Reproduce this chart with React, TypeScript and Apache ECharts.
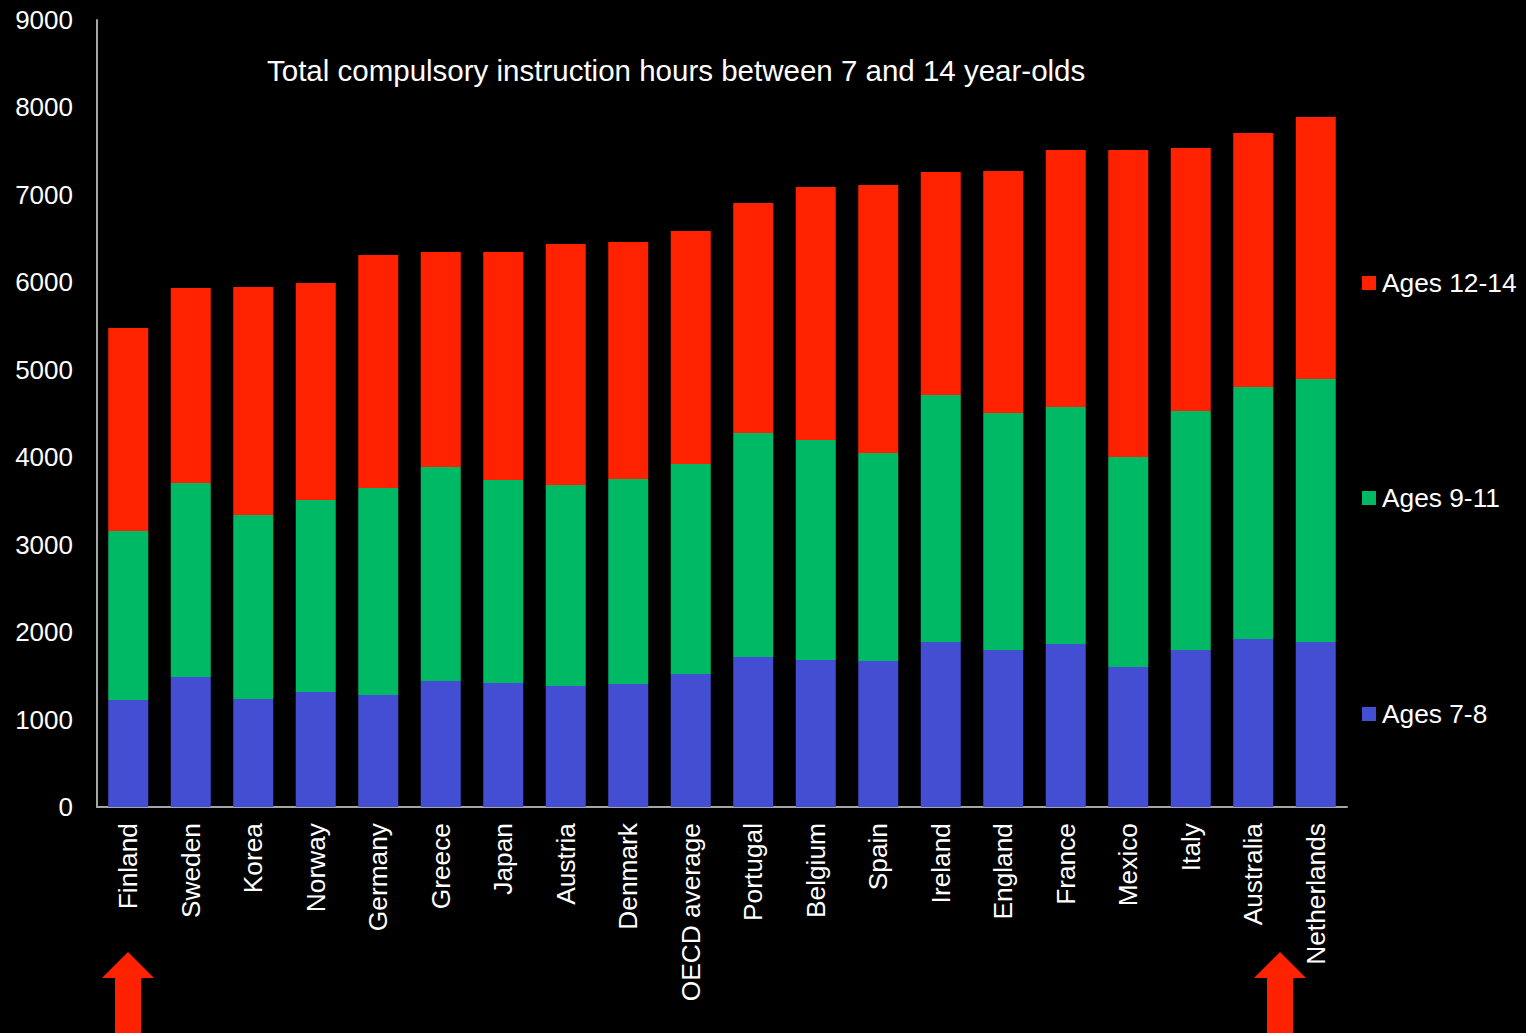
import React, { useEffect, useRef } from "react";
import * as echarts from "echarts";

const categories = [
  "Finland", "Sweden", "Korea", "Norway", "Germany", "Greece", "Japan", "Austria",
  "Denmark", "OECD average", "Portugal", "Belgium", "Spain", "Ireland", "England",
  "France", "Mexico", "Italy", "Australia", "Netherlands",
];

const ages7to8 = [1224, 1487, 1235, 1315, 1281, 1441, 1418, 1384, 1407, 1521, 1715, 1681, 1670, 1887, 1796, 1864, 1601, 1796, 1921, 1887];
const ages9to11 = [1932, 2218, 2104, 2196, 2367, 2447, 2322, 2299, 2344, 2402, 2562, 2516, 2378, 2825, 2710, 2711, 2402, 2733, 2882, 3008];
const ages12to14 = [2322, 2231, 2608, 2482, 2665, 2459, 2607, 2756, 2711, 2664, 2631, 2894, 3065, 2550, 2768, 2939, 3511, 3008, 2905, 2996];

const yMin = 0;
const yMax = 9000;
const yInterval = 1000;

const titleText = "Total compulsory instruction hours between 7 and 14 year-olds";
const seriesNames = ["Ages 7-8", "Ages 9-11", "Ages 12-14"];

const FONT = "Arial, 'Liberation Sans', sans-serif";
const RED = "#FF2200";
const GREEN = "#00B964";
const BLUE = "#434ED3";
const AXIS = "#A6A6A6";

function arrow(cx: number) {
  return {
    type: "polygon",
    shape: {
      points: [
        [cx, 952],
        [cx + 26, 978],
        [cx + 13, 978],
        [cx + 13, 1033],
        [cx - 13, 1033],
        [cx - 13, 978],
        [cx - 26, 978],
      ],
    },
    style: { fill: RED },
    silent: true,
  };
}

export default function App() {
  const ref = useRef<HTMLDivElement>(null);

  useEffect(() => {
    document.body.style.margin = "0";
    document.body.style.background = "#000";
    if (!ref.current) return;
    const chart = echarts.init(ref.current, null, { renderer: "svg" });
    const legendItem = (name: string, top: number) => ({
      data: [name],
      left: 1362,
      top,
      orient: "vertical",
      itemWidth: 14,
      itemHeight: 14,
      itemGap: 6,
      icon: "rect",
      padding: 0,
      selectedMode: false,
      textStyle: { color: "#fff", fontSize: 26.3, fontFamily: FONT, padding: [0, 0, 0, 1], lineHeight: 28 },
    });
    chart.setOption({
      animation: false,
      backgroundColor: "#000",
      title: {
        text: titleText,
        left: 267,
        top: 55,
        padding: 0,
        textStyle: { color: "#fff", fontSize: 29.5, fontWeight: "normal", fontFamily: FONT },
      },
      legend: [
        legendItem(seriesNames[2], 269),
        legendItem(seriesNames[1], 484),
        legendItem(seriesNames[0], 700),
      ],
      grid: { left: 97, right: 179, top: 20, bottom: 226, containLabel: false },
      xAxis: {
        type: "category",
        data: categories,
        axisLine: { show: true, lineStyle: { color: AXIS, width: 2 } },
        axisTick: { show: false },
        axisLabel: {
          rotate: 90,
          interval: 0,
          margin: 16,
          color: "#fff",
          fontSize: 26.3,
          fontFamily: FONT,
        },
      },
      yAxis: {
        type: "value",
        min: yMin,
        max: yMax,
        interval: yInterval,
        axisLine: { show: true, lineStyle: { color: AXIS, width: 2 } },
        axisTick: { show: false },
        splitLine: { show: false },
        axisLabel: {
          margin: 24,
          color: "#fff",
          fontSize: 26,
          fontFamily: FONT,
          formatter: (v: number) => String(v),
        },
      },
      series: [
        { name: seriesNames[0], type: "bar", stack: "total", data: ages7to8, barWidth: 40, itemStyle: { color: BLUE } },
        { name: seriesNames[1], type: "bar", stack: "total", data: ages9to11, barWidth: 40, itemStyle: { color: GREEN } },
        { name: seriesNames[2], type: "bar", stack: "total", data: ages12to14, barWidth: 40, itemStyle: { color: RED } },
      ],
      graphic: [arrow(128), arrow(1280)],
    });
    return () => chart.dispose();
  }, []);

  return (
    <div
      ref={ref}
      style={{ position: "absolute", left: 0, top: 0, width: 1526, height: 1033, background: "#000" }}
    />
  );
}
